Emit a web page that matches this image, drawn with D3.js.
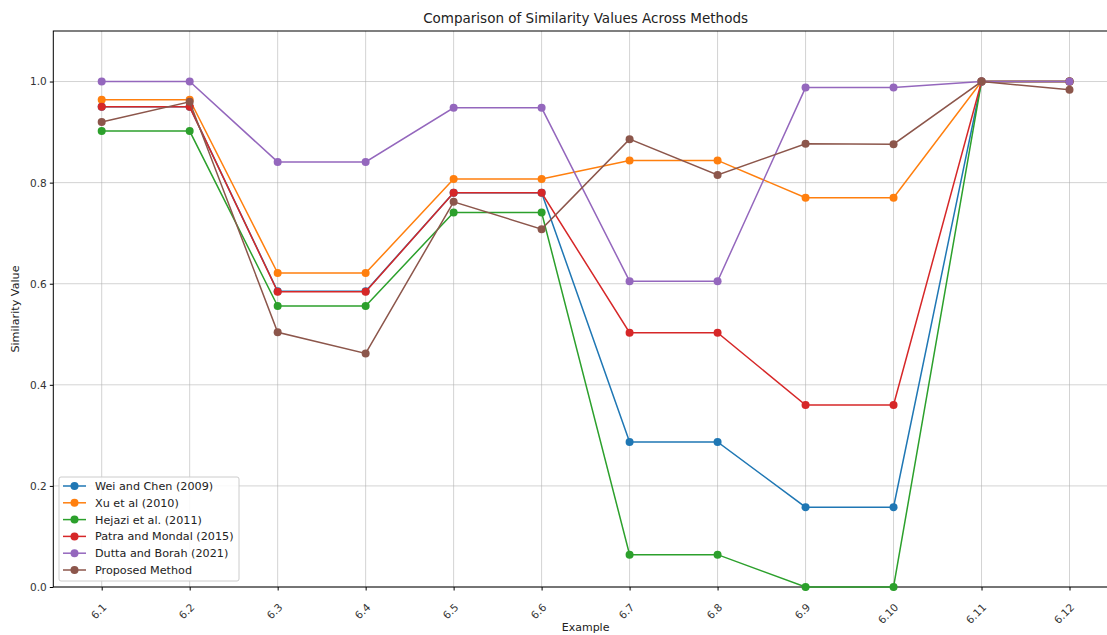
<!DOCTYPE html>
<html><head><meta charset="utf-8">
<script src="https://cdn.jsdelivr.net/npm/d3@7/dist/d3.min.js"></script>
<style>body{margin:0;background:#fff;overflow:hidden}svg{display:block}</style>
</head><body>
<svg id="c" width="1107" height="635"></svg>
<script>
const categories = ["6.1","6.2","6.3","6.4","6.5","6.6","6.7","6.8","6.9","6.10","6.11","6.12"];
const seriesNames = ["Wei and Chen (2009)","Xu et al (2010)","Hejazi et al. (2011)","Patra and Mondal (2015)","Dutta and Borah (2021)","Proposed Method"];
const weiChen  = [0.95,0.95,0.585,0.585,0.78,0.78,0.287,0.287,0.158,0.158,1.0,1.0];
const xuEtAl   = [0.964,0.964,0.621,0.621,0.807,0.807,0.844,0.844,0.770,0.770,1.0,1.0];
const hejazi   = [0.902,0.902,0.556,0.556,0.741,0.741,0.064,0.064,0.0,0.0,1.0,1.0];
const patra    = [0.95,0.95,0.584,0.584,0.78,0.78,0.503,0.503,0.360,0.360,1.0,1.0];
const dutta    = [1.0,1.0,0.841,0.841,0.948,0.948,0.605,0.605,0.988,0.988,1.0,1.0];
const proposed = [0.920,0.960,0.504,0.462,0.762,0.708,0.886,0.815,0.877,0.876,1.0,0.984];
const yTicks = [0.0,0.2,0.4,0.6,0.8,1.0];
const seriesValues = [weiChen,xuEtAl,hejazi,patra,dutta,proposed];
const colors = ["#1f77b4","#ff7f0e","#2ca02c","#d62728","#9467bd","#8c564b"];

const svg = d3.select("#c");
const L=53.3, R=1117.9, T=31, B=587;
const x = d3.scaleLinear().domain([-0.55, categories.length-1+0.55]).range([L,R]);
const y = d3.scaleLinear().domain([0,1.1]).range([B,T]);
const font = "DejaVu Sans, sans-serif";

// grid
const grid = svg.append("g");
grid.selectAll("line.v").data(categories).enter().append("line")
  .attr("x1",(d,i)=>x(i)).attr("x2",(d,i)=>x(i)).attr("y1",T).attr("y2",B)
  .attr("stroke","#b0b0b0").attr("stroke-opacity",0.7).attr("stroke-width",0.8);
grid.selectAll("line.h").data(yTicks).enter().append("line")
  .attr("x1",L).attr("x2",R).attr("y1",d=>y(d)).attr("y2",d=>y(d))
  .attr("stroke","#b0b0b0").attr("stroke-opacity",0.7).attr("stroke-width",0.8);

// axes
const xAxis = d3.axisBottom(x).tickValues(d3.range(categories.length)).tickFormat(i=>categories[i]).tickSizeOuter(0).tickSize(3.5);
const gx = svg.append("g").attr("transform",`translate(0,${B})`).call(xAxis);
gx.select(".domain").remove();
gx.selectAll("text").attr("font-family",font).attr("font-size",10.5).attr("fill","#333")
  .attr("text-anchor","end").attr("dy",null).attr("y",0)
  .attr("transform","translate(5,21) rotate(-45)");
const yAxis = d3.axisLeft(y).tickValues(yTicks).tickFormat(d3.format(".1f")).tickSizeOuter(0).tickSize(3.5);
const gy = svg.append("g").attr("transform",`translate(${L},0)`).call(yAxis);
gy.select(".domain").remove();
gy.selectAll("text").attr("font-family",font).attr("font-size",10.5).attr("fill","#333");

// frame
svg.append("rect").attr("x",L).attr("y",T).attr("width",R-L).attr("height",B-T)
  .attr("fill","none").attr("stroke","#000").attr("stroke-width",1);

// series
const line = d3.line().x((d,i)=>x(i)).y(d=>y(d));
seriesValues.forEach((vals,k)=>{
  const g = svg.append("g");
  g.append("path").datum(vals).attr("d",line).attr("fill","none")
    .attr("stroke",colors[k]).attr("stroke-width",1.5);
  g.selectAll("circle").data(vals).enter().append("circle")
    .attr("cx",(d,i)=>x(i)).attr("cy",d=>y(d)).attr("r",4).attr("fill",colors[k]);
});

// title and labels
svg.append("text").attr("x",(L+R)/2).attr("y",23).attr("text-anchor","middle")
  .attr("font-family",font).attr("font-size",13.5).attr("fill","#222")
  .text("Comparison of Similarity Values Across Methods");
svg.append("text").attr("x",(L+R)/2).attr("y",631).attr("text-anchor","middle")
  .attr("font-family",font).attr("font-size",11).attr("fill","#222").text("Example");
svg.append("text").attr("transform",`translate(19,${(T+B)/2}) rotate(-90)`).attr("text-anchor","middle")
  .attr("font-family",font).attr("font-size",11.2).attr("fill","#222").text("Similarity Value");

// legend
const lg = svg.append("g").attr("transform","translate(59,477)");
lg.append("rect").attr("width",180).attr("height",104).attr("rx",2)
  .attr("fill","#fff").attr("fill-opacity",0.85).attr("stroke","#ccc");
seriesNames.forEach((n,k)=>{
  const yy = 9 + k*16.8;
  lg.append("line").attr("x1",4).attr("x2",27).attr("y1",yy).attr("y2",yy).attr("stroke",colors[k]).attr("stroke-width",1.5);
  lg.append("circle").attr("cx",15.5).attr("cy",yy).attr("r",4).attr("fill",colors[k]);
  lg.append("text").attr("x",36).attr("y",yy+4).attr("font-family",font).attr("font-size",11.2).attr("fill","#222").text(n);
});
</script>
</body></html>
